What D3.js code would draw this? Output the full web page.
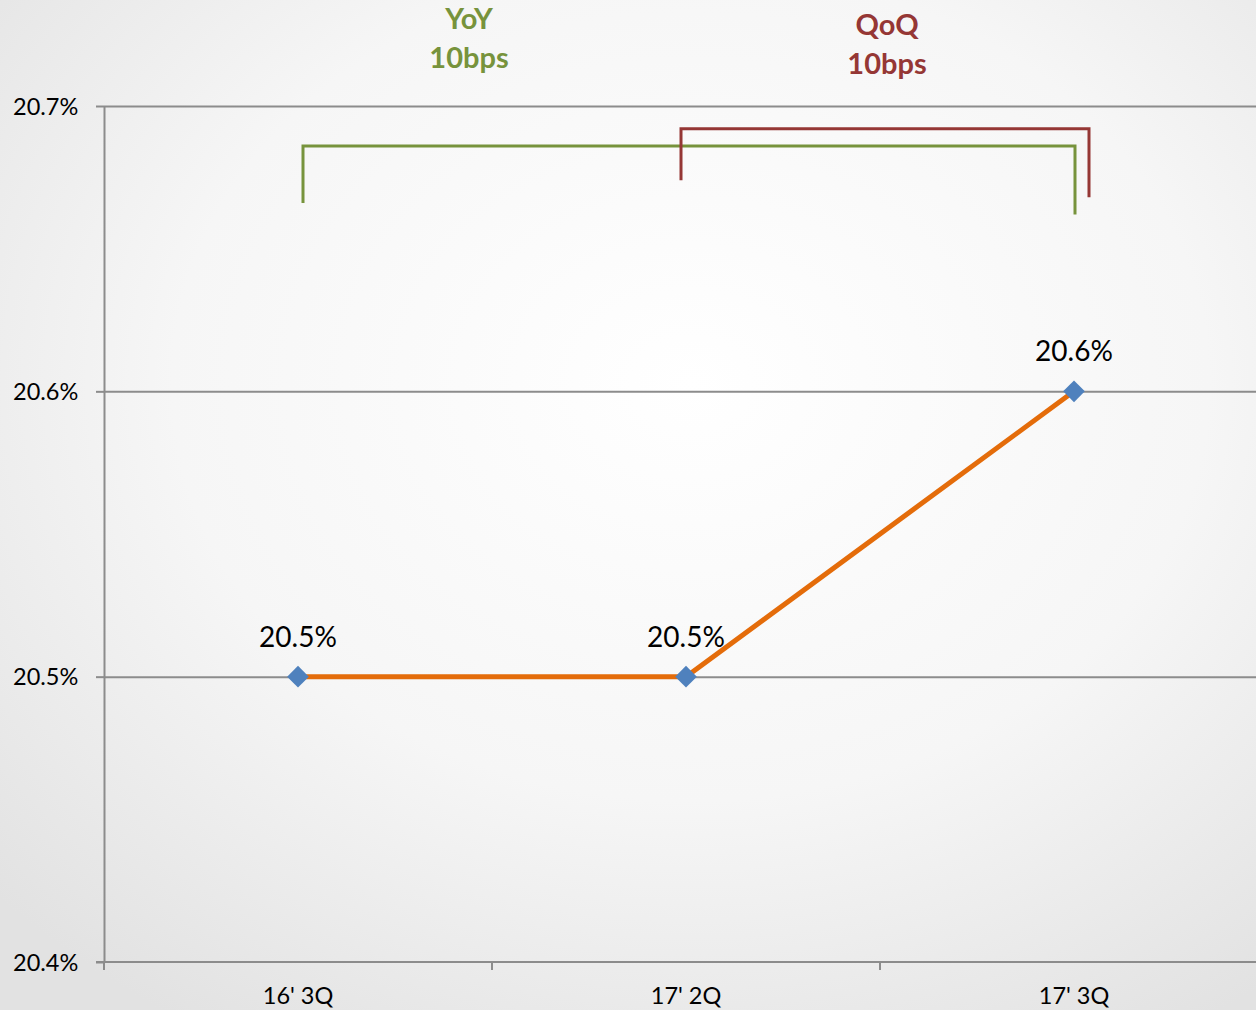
<!DOCTYPE html>
<html lang="en">
<head>
    <meta charset="utf-8" />
    <title>Margin trend</title>
    <style type="text/css">
        html, body { margin: 0; padding: 0; }
        body { width: 1256px; height: 1010px; overflow: hidden; }
        text { font-family: Lato, "Open Sans", sans-serif; }
        .grid line { stroke: #8c8c8c; stroke-width: 2px; }
        .grid path { display: none; }
        .axis path, .axis line { stroke: #8c8c8c; stroke-width: 2px; }
        .axis text { fill: #000; font-size: 23.5px; }
        .line { fill: none; stroke: #e46c0a; stroke-width: 5px; }
    </style>
    <script type="text/javascript" src="https://cdnjs.cloudflare.com/ajax/libs/d3/7.8.5/d3.min.js"></script>
</head>
<body>
    <div id="chart"></div>
    <script type="text/javascript">
        // data
        const categories = ["16' 3Q", "17' 2Q", "17' 3Q"];
        const values = [20.5, 20.5, 20.6];
        const valueLabels = ['20.5%', '20.5%', '20.6%'];
        const yTicks = [20.4, 20.5, 20.6, 20.7];

        // comparison brackets: from / to category, level in value units
        const bracketNames = ['YoY', 'QoQ'];
        const bracketTexts = ['10bps', '10bps'];
        const bracketFrom = ["16' 3Q", "17' 2Q"];
        const bracketTo = ["17' 3Q", "17' 3Q"];
        const bracketColors = ['#77933c', '#953735'];

        const width = 1256, height = 1010,
            margin = {top: 106, right: -12, bottom: 48, left: 104};

        let x = d3.scaleBand()
            .domain(categories)
            .range([margin.left, width - margin.right])
            .padding(0);
        let y = d3.scaleLinear()
            .domain([20.4, 20.7])
            .range([height - margin.bottom, margin.top]);

        let svg = d3.select('#chart').append('svg')
            .attr('width', width)
            .attr('height', height);

        // background
        let defs = svg.append('defs');
        let grad = defs.append('radialGradient')
            .attr('id', 'bg')
            .attr('cx', '55%').attr('cy', '38%').attr('r', '75%');
        grad.append('stop').attr('offset', '0%').attr('stop-color', '#ffffff');
        grad.append('stop').attr('offset', '55%').attr('stop-color', '#f6f6f6');
        grad.append('stop').attr('offset', '100%').attr('stop-color', '#e2e2e2');
        svg.append('rect')
            .attr('width', width).attr('height', height)
            .attr('fill', 'url(#bg)');

        // gridlines
        svg.append('g')
            .attr('class', 'grid')
            .attr('transform', 'translate(' + margin.left + ',0)')
            .call(d3.axisRight(y).tickValues(yTicks.slice(1)).tickSize(width - margin.left).tickFormat(''));

        // x axis
        let xAxis = svg.append('g')
            .attr('class', 'axis')
            .attr('transform', 'translate(0,' + y(20.4) + ')')
            .call(d3.axisBottom(x).tickSize(0).tickPadding(25));
        xAxis.select('.domain').attr('d', 'M' + (margin.left - 8) + ',0H' + width);
        xAxis.selectAll('.bound')
            .data(categories)
            .enter().append('line')
            .attr('x1', d => x(d)).attr('x2', d => x(d))
            .attr('y1', 0).attr('y2', 8);

        // y axis
        let yAxis = svg.append('g')
            .attr('class', 'axis')
            .attr('transform', 'translate(' + margin.left + ',0)')
            .call(d3.axisLeft(y).tickValues(yTicks).tickSize(8).tickSizeOuter(0).tickPadding(26)
                .tickFormat(d => d.toFixed(1) + '%'));
        yAxis.selectAll('text').attr('text-anchor', 'start').attr('x', -91).attr('dy', '0.35em');

        const cx = d => x(d) + x.bandwidth() / 2;

        // series line
        let data = categories.map((c, i) => ({c: c, v: values[i], label: valueLabels[i]}));
        let valueline = d3.line()
            .x(d => cx(d.c))
            .y(d => y(d.v));
        svg.append('path')
            .datum(data)
            .attr('class', 'line')
            .attr('d', valueline);

        svg.selectAll('.marker')
            .data(data)
            .enter().append('path')
            .attr('class', 'marker')
            .attr('d', d3.symbol().type(d3.symbolDiamond2).size(300))
            .attr('transform', d => 'translate(' + cx(d.c) + ',' + y(d.v) + ')')
            .attr('fill', '#4f81bd');

        svg.selectAll('.dlabel')
            .data(data)
            .enter().append('text')
            .attr('class', 'dlabel')
            .attr('x', d => cx(d.c))
            .attr('y', d => y(d.v) - 30)
            .attr('text-anchor', 'middle')
            .style('font-size', '28px')
            .text(d => d.label);

        // brackets
        const bracketTop = [y(20.686), y(20.692)];
        const bracketLeftEnd = [y(20.666), y(20.674)];
        const bracketRightEnd = [y(20.662), y(20.668)];
        const bracketDx = [[5, 1], [-5, 15]];
        bracketNames.forEach((name, i) => {
            let x0 = cx(bracketFrom[i]) + bracketDx[i][0],
                x1 = cx(bracketTo[i]) + bracketDx[i][1];
            svg.append('path')
                .attr('d', 'M' + x0 + ',' + bracketLeftEnd[i] + 'V' + bracketTop[i] +
                    'H' + x1 + 'V' + bracketRightEnd[i])
                .attr('fill', 'none')
                .attr('stroke', bracketColors[i])
                .attr('stroke-width', 3);
        });

        // bracket titles
        const titleX = [469, 887];
        const titleY = [29, 35];
        bracketNames.forEach((name, i) => {
            let t = svg.append('text')
                .attr('x', titleX[i])
                .attr('y', titleY[i])
                .attr('text-anchor', 'middle')
                .attr('fill', bracketColors[i])
                .style('font-size', '29px')
                .style('font-weight', 700);
            t.append('tspan').attr('x', titleX[i]).text(name);
            t.append('tspan').attr('x', titleX[i]).attr('dy', 39).text(bracketTexts[i]);
        });
    </script>
</body>
</html>
